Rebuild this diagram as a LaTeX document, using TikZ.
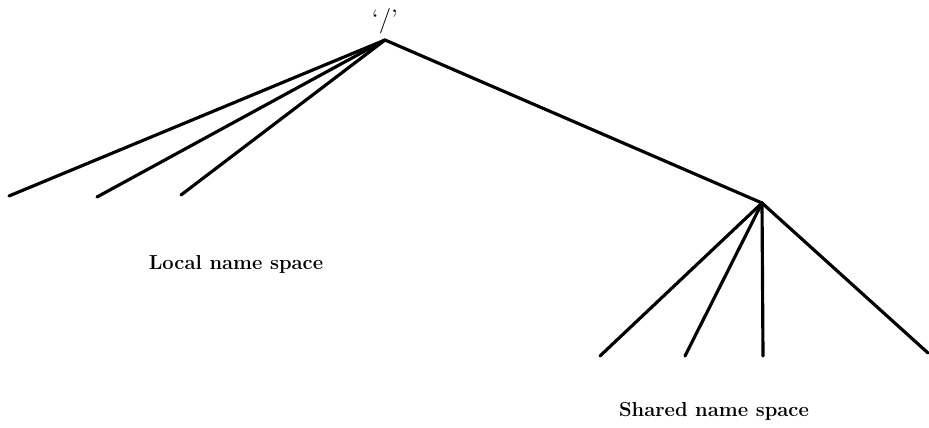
\documentclass[tikz,border=0pt]{standalone}
\usepackage{tikz}
\usetikzlibrary{positioning}

\begin{document}
\begin{tikzpicture}[
  x=0.02cm, y=-0.02cm,
  branch/.style = {line width=1.8pt, line cap=round, line join=round},
  caption/.style = {font=\fontsize{11.5}{14}\selectfont\bfseries, inner sep=0pt}
  ]

\useasboundingbox (0,0) rectangle (929,428);

% Top: root of the tree
\coordinate (root) at (385,40);
\node[inner sep=0pt, font=\Large] (slash) at (385,21) {`/'};

% Local name space
\coordinate (loc1) at (9,196);
\coordinate (loc2) at (97,197);
\coordinate (loc3) at (181,195);

% Shared name space
\coordinate (shr) at (762,203);
\coordinate (shr1) at (600,356);
\coordinate (shr2) at (685,356);
\coordinate (shr3) at (763,356);
\coordinate (shr4) at (928,353);

% Draw branches
\draw[branch] (root) -- (loc1);
\draw[branch] (root) -- (loc2);
\draw[branch] (root) -- (loc3);
\draw[branch] (root) -- (shr);
\draw[branch] (shr) -- (shr1);
\draw[branch] (shr) -- (shr2);
\draw[branch] (shr) -- (shr3);
\draw[branch] (shr) -- (shr4);

% Add labels
\node[caption] (local) at (236,264) {Local name space};
\node[caption] (shared) at (714,411) {Shared name space};
\end{tikzpicture}
\end{document}
